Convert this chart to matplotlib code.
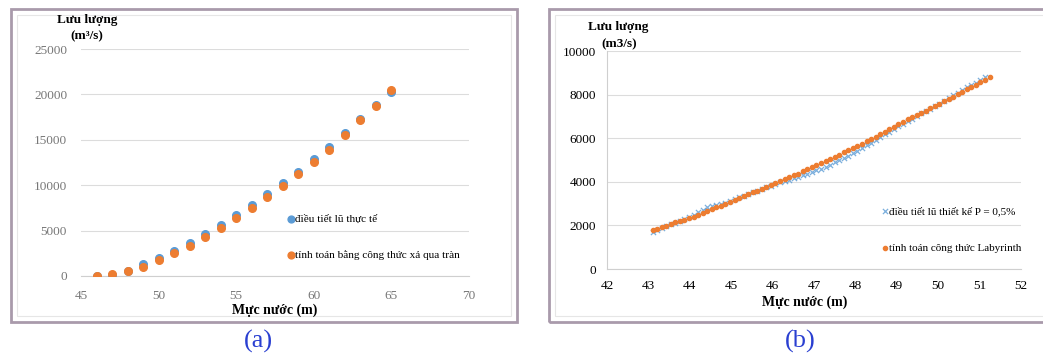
import matplotlib
matplotlib.use("Agg")
import matplotlib.pyplot as plt
from matplotlib.patches import Rectangle

# ---- panel (a): flow vs water level, spillway formula ----
muc_nuoc_a = [46, 47, 48, 49, 50, 51, 52, 53, 54, 55,
              56, 57, 58, 59, 60, 61, 62, 63, 64, 65]
q_thuc_te = [0, 150, 600, 1300, 1950, 2700, 3600, 4600, 5650, 6700,
             7800, 9000, 10250, 11500, 12850, 14200, 15750, 17300, 18800, 20250]
q_cong_thuc = [0, 180, 590, 1030, 1800, 2500, 3300, 4250, 5300, 6350,
               7520, 8700, 9950, 11230, 12590, 13910, 15520, 17170, 18750, 20480]

# ---- panel (b): flow vs water level, labyrinth ----
muc_nuoc_b = [43.10, 43.21, 43.32, 43.43, 43.54, 43.65, 43.76, 43.87, 43.98, 44.09,
              44.20, 44.31, 44.42, 44.53, 44.64, 44.75, 44.86, 44.97, 45.08, 45.19,
              45.30, 45.41, 45.52, 45.63, 45.74, 45.85, 45.96, 46.07, 46.18, 46.29,
              46.40, 46.51, 46.62, 46.73, 46.84, 46.95, 47.06, 47.17, 47.28, 47.39,
              47.50, 47.61, 47.72, 47.83, 47.94, 48.05, 48.16, 48.27, 48.38, 48.49,
              48.60, 48.71, 48.82, 48.93, 49.04, 49.15, 49.26, 49.37, 49.48, 49.59,
              49.70, 49.81, 49.92, 50.03, 50.14, 50.25, 50.36, 50.47, 50.58, 50.69,
              50.80, 50.91, 51.02, 51.13, 51.24]
q_thiet_ke = [1680, 1790, 1880, 1960, 2050, 2120, 2200, 2290, 2390, 2500,
              2610, 2720, 2830, 2900, 2950, 2990, 3050, 3140, 3200, 3280,
              3360, 3440, 3520, 3590, 3670, 3750, 3830, 3900, 3970, 4040,
              4100, 4160, 4230, 4300, 4380, 4450, 4520, 4600, 4690, 4790,
              4890, 4990, 5090, 5190, 5300, 5420, 5540, 5670, 5800, 5930,
              6060, 6180, 6300, 6420, 6540, 6660, 6780, 6900, 7020, 7140,
              7250, 7360, 7470, 7590, 7710, 7830, 7960, 8090, 8210, 8330,
              8440, 8550, 8660, 8790]
q_labyrinth = [1770, 1840, 1910, 1990, 2080, 2140, 2200, 2260, 2320, 2400,
               2490, 2580, 2670, 2760, 2840, 2910, 2990, 3070, 3150, 3240,
               3330, 3420, 3510, 3600, 3690, 3780, 3860, 3940, 4020, 4110,
               4200, 4290, 4380, 4480, 4590, 4700, 4790, 4880, 4970, 5060,
               5150, 5250, 5350, 5450, 5550, 5650, 5750, 5850, 5960, 6070,
               6180, 6300, 6420, 6530, 6640, 6750, 6860, 6970, 7070, 7170,
               7270, 7370, 7470, 7580, 7690, 7800, 7910, 8020, 8130, 8240,
               8350, 8450, 8560, 8680, 8800]

blue = "#5b9bd5"
orange = "#ed7d31"
grid_c = "#dcdcdc"
serif = ["Liberation Serif", "DejaVu Serif"]

fig = plt.figure(figsize=(10.43, 3.56), dpi=100)
W, H = 1043.0, 356.0

def px(x0, y0, x1, y1):
    # pixel box (top-left origin) -> figure fraction [l, b, w, h]
    return [x0 / W, 1 - y1 / H, (x1 - x0) / W, (y1 - y0) / H]

# panel frames
for (x0, y0, x1, y1) in [(11, 9, 517, 322), (549, 9, 1050, 322)]:
    l, b, w, h = px(x0, y0, x1, y1)
    fig.patches.append(Rectangle((l, b), w, h, transform=fig.transFigure,
                                 fill=False, edgecolor="#a99aab", linewidth=2.0))
    l, b, w, h = px(x0 + 6, y0 + 6, x1 - 6, y1 - 6)
    fig.patches.append(Rectangle((l, b), w, h, transform=fig.transFigure,
                                 fill=False, edgecolor="#e6e6e6", linewidth=0.8))

# ---------------- (a) ----------------
ax1 = fig.add_axes(px(81, 49, 469, 276))
ax1.scatter(muc_nuoc_a, q_thuc_te, s=30, color=blue, zorder=3,
            label="điều tiết lũ thực tế")
ax1.scatter(muc_nuoc_a, q_cong_thuc, s=30, color=orange, zorder=4,
            label="tính toán bằng công thức xả qua tràn")
ax1.set_xlim(45, 70)
ax1.set_ylim(0, 25000)
ax1.set_xticks(range(45, 71, 5))
ax1.set_yticks(range(0, 25001, 5000))
ax1.grid(axis="y", color=grid_c, linewidth=0.8)
ax1.set_axisbelow(True)
for s in ["top", "right", "left"]:
    ax1.spines[s].set_visible(False)
ax1.spines["bottom"].set_color("#cfcfcf")
ax1.tick_params(axis="x", length=0, labelsize=9.5, colors="#777777", pad=10)
ax1.tick_params(axis="y", length=0, labelsize=9.5, colors="#777777", pad=10)
for t in ax1.get_xticklabels() + ax1.get_yticklabels():
    t.set_family(serif)
ax1.legend(loc="upper left", bbox_to_anchor=(0.52, 0.293), frameon=False,
           handletextpad=0.1, handlelength=0.6, labelspacing=2.3,
           borderaxespad=0, prop={"family": serif, "size": 8.1},
           markerscale=0.9)
fig.text(87 / W, 1 - 20 / H, "Lưu lượng", ha="center", va="center",
         family=serif, fontsize=9.5, fontweight="bold")
fig.text(87 / W, 1 - 36 / H, "(m³/s)", ha="center", va="center",
         family=serif, fontsize=9.5, fontweight="bold")
fig.text(275 / W, 1 - 310 / H, "Mực nước (m)", ha="center", va="center",
         family=serif, fontsize=10, fontweight="bold")

# ---------------- (b) ----------------
ax2 = fig.add_axes(px(607, 51, 1021, 269))
ax2.scatter(muc_nuoc_b[:len(q_thiet_ke)], q_thiet_ke, marker="x", s=14,
            linewidths=0.9, color=blue, alpha=0.8, zorder=3,
            label="điều tiết lũ thiết kế P = 0,5%")
ax2.scatter(muc_nuoc_b, q_labyrinth, s=9, color=orange, zorder=4,
            label="tính toán công thức Labyrinth")
ax2.set_xlim(42, 52)
ax2.set_ylim(0, 10000)
ax2.set_xticks(range(42, 53))
ax2.set_yticks(range(0, 10001, 2000))
ax2.grid(axis="y", color=grid_c, linewidth=0.8)
ax2.set_axisbelow(True)
for s in ["top", "right"]:
    ax2.spines[s].set_visible(False)
ax2.spines["bottom"].set_color("#cfcfcf")
ax2.spines["left"].set_color("#cfcfcf")
ax2.tick_params(axis="x", length=0, labelsize=9.5, colors="black", pad=8)
ax2.tick_params(axis="y", length=0, labelsize=9.5, colors="black", pad=8)
for t in ax2.get_xticklabels() + ax2.get_yticklabels():
    t.set_family(serif)
ax2.legend(loc="upper left", bbox_to_anchor=(0.652, 0.307), frameon=False,
           handletextpad=0.1, handlelength=0.6, labelspacing=2.4,
           borderaxespad=0, prop={"family": serif, "size": 8.0})
fig.text(618 / W, 1 - 27 / H, "Lưu lượng", ha="center", va="center",
         family=serif, fontsize=9.5, fontweight="bold")
fig.text(619 / W, 1 - 44 / H, "(m3/s)", ha="center", va="center",
         family=serif, fontsize=9.5, fontweight="bold")
fig.text(805 / W, 1 - 302 / H, "Mực nước (m)", ha="center", va="center",
         family=serif, fontsize=10, fontweight="bold")

# captions
fig.text(258 / W, 1 - 341 / H, "(a)", ha="center", va="center",
         family=serif, fontsize=19, color="#2a3fd1")
fig.text(800 / W, 1 - 341 / H, "(b)", ha="center", va="center",
         family=serif, fontsize=19, color="#2a3fd1")

fig.savefig("out.png", dpi=100)
